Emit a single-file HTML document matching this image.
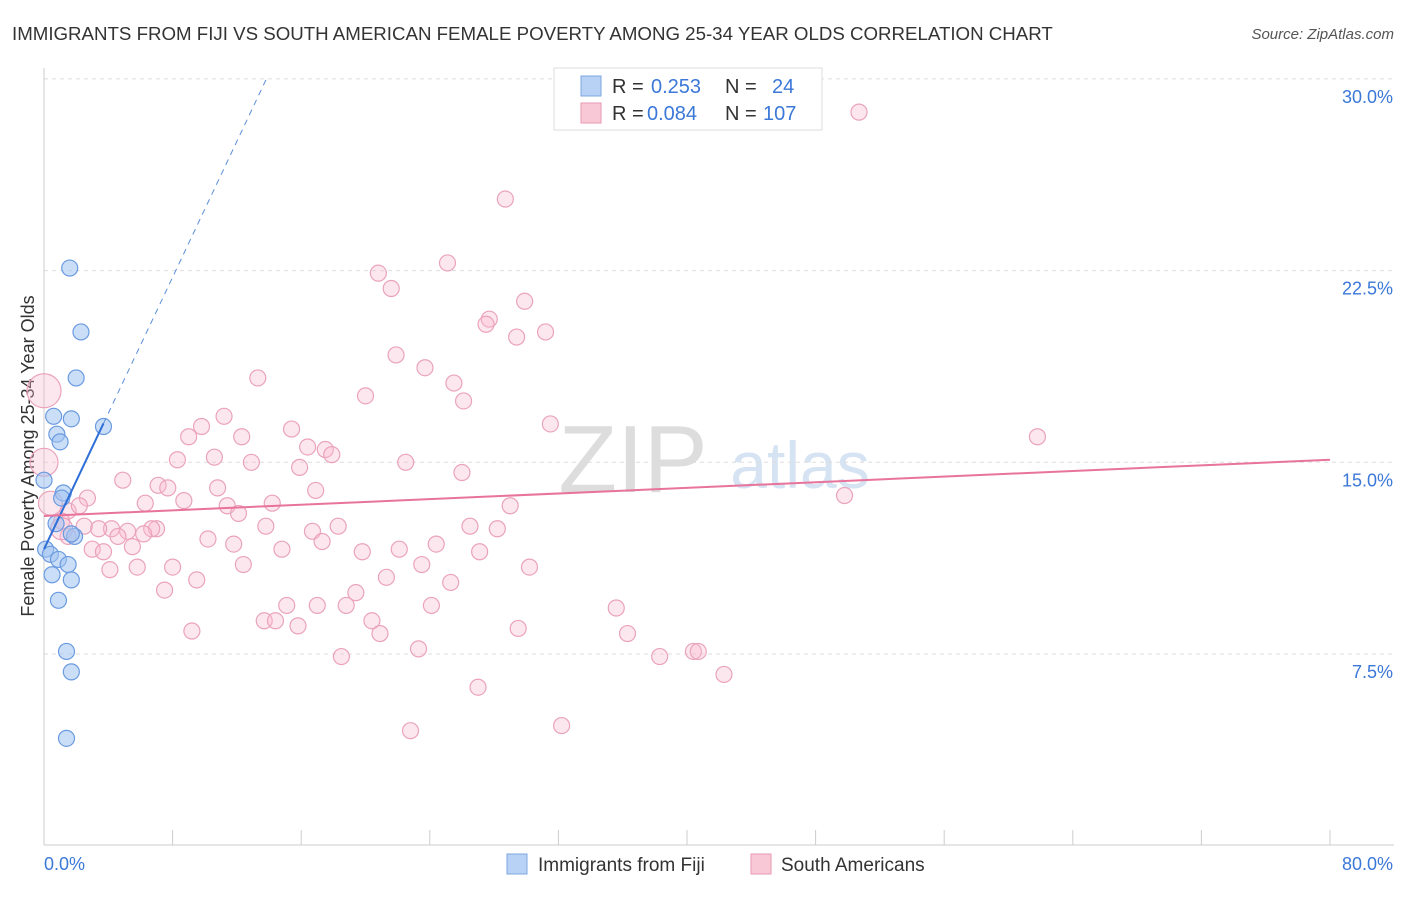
<!DOCTYPE html>
<html><head><meta charset="utf-8"><style>
body{margin:0;background:#fff;font-family:"Liberation Sans",sans-serif}
svg text{font-family:"Liberation Sans",sans-serif}
</style></head><body>
<svg id="chart" width="1406" height="892">
<text x="12" y="40" font-size="18.7" fill="#333">IMMIGRANTS FROM FIJI VS SOUTH AMERICAN FEMALE POVERTY AMONG 25-34 YEAR OLDS CORRELATION CHART</text>
<text x="1394" y="39" font-size="15" fill="#555" font-style="italic" text-anchor="end">Source: ZipAtlas.com</text>
<text x="633" y="492" font-size="96" fill="#ddd" font-family="Liberation Serif" text-anchor="middle">ZIP</text>
<text x="800" y="488" font-size="66" fill="#d6e3f3" text-anchor="middle">atlas</text>
<text transform="translate(34,456) rotate(-90)" font-size="18" fill="#333" text-anchor="middle">Female Poverty Among 25-34 Year Olds</text>
<g id="grid"></g><g id="marks"></g>
<g>
<rect x="554" y="68" width="268" height="62" fill="#fff" stroke="#ddd"/>
<rect x="581" y="76" width="20" height="20" fill="#b8d2f5" stroke="#7ba7e0"/>
<text x="612" y="93" font-size="20" fill="#333">R =</text>
<text x="651" y="93" font-size="20" fill="#3b78d8">0.253</text>
<text x="725" y="93" font-size="20" fill="#333">N =</text>
<text x="772" y="93" font-size="20" fill="#3b78d8">24</text>
<rect x="581" y="103" width="20" height="20" fill="#f9c8d6" stroke="#e89ab3"/>
<text x="612" y="120" font-size="20" fill="#333">R =</text>
<text x="647" y="120" font-size="20" fill="#3b78d8">0.084</text>
<text x="725" y="120" font-size="20" fill="#333">N =</text>
<text x="763" y="120" font-size="20" fill="#3b78d8">107</text>
</g>
<g>
<rect x="507" y="854" width="20" height="20" fill="#b8d2f5" stroke="#7ba7e0"/>
<text x="538" y="871" font-size="19" fill="#333">Immigrants from Fiji</text>
<rect x="751" y="854" width="20" height="20" fill="#f9c8d6" stroke="#e89ab3"/>
<text x="781" y="871" font-size="19" fill="#333">South Americans</text>
</g>
</svg>
<script>
const fijiX=[1.6,2.3,2.0,3.7,0.6,1.7,0.8,1.0,0,1.2,1.1,0.75,1.9,1.7,0.1,0.4,0.9,1.5,0.5,1.7,0.9,1.4,1.7,1.4];
const fijiY=[22.6,20.1,18.3,16.4,16.8,16.7,16.1,15.8,14.3,13.8,13.6,12.6,12.1,12.2,11.6,11.4,11.2,11.0,10.6,10.4,9.6,7.6,6.8,4.2];
const saX=[50.7,28.7,25.1,20.8,21.6,29.9,27.7,27.5,29.4,31.2,21.9,23.7,13.3,25.5,20.0,26.1,11.2,31.5,15.4,9.0,12.3,61.8,9.8,16.4,17.5,17.9,10.6,8.3,12.9,22.5,26.0,15.9,4.9,7.1,7.7,10.8,16.9,2.7,8.7,6.3,14.2,11.4,12.1,29.0,49.8,1.5,2.2,1.1,13.8,18.3,26.5,28.2,4.2,5.2,7.0,6.7,3.4,2.5,6.2,16.7,1.5,4.6,10.2,11.8,17.3,24.4,27.1,5.5,3.0,3.7,19.8,22.1,14.8,8.0,12.4,23.5,4.1,5.8,30.2,21.3,25.3,9.5,7.5,19.4,17.0,18.8,24.1,15.1,35.6,13.7,14.4,15.8,20.4,20.9,9.2,29.5,36.3,23.3,18.5,38.3,40.4,40.7,42.3,27.0,22.8,32.2,0,0,0.4,1.1];
const saY=[28.7,25.3,22.8,22.4,21.8,21.3,20.6,20.4,19.9,20.1,19.2,18.7,18.3,18.1,17.6,17.4,16.8,16.5,16.3,16.0,16.0,16.0,16.4,15.6,15.5,15.3,15.2,15.1,15.0,15.0,14.6,14.8,14.3,14.1,14.0,14.0,13.9,13.6,13.5,13.4,13.4,13.3,13.0,13.3,13.7,13.1,13.3,12.7,12.5,12.5,12.5,12.4,12.4,12.3,12.4,12.4,12.4,12.5,12.2,12.3,12.1,12.1,12.0,11.8,11.9,11.8,11.5,11.7,11.6,11.5,11.5,11.6,11.6,10.9,11.0,11.0,10.8,10.9,10.9,10.5,10.3,10.4,10.0,9.9,9.4,9.4,9.4,9.4,9.3,8.8,8.8,8.6,8.8,8.3,8.4,8.5,8.3,7.7,7.4,7.4,7.6,7.6,6.7,6.2,4.5,4.7,17.8,15.0,13.4,12.4];
const saR=saX.map((_,i)=>i>=saX.length-4?[17,14,12,11][i-(saX.length-4)]:8);
const yTicks=[7.5,15,22.5,30];
const yTickLabels=["7.5%","15.0%","22.5%","30.0%"];
const xTicks=[0,8,16,24,32,40,48,56,64,72,80];
const fijiTrend=[11.6,1.33];
const saTrend=[12.9,0.0275];
const X=v=>44+v*16.075, Y=v=>845.7-v*25.56;
const NS="http://www.w3.org/2000/svg";
function mk(t,a,p){const e=document.createElementNS(NS,t);for(const k in a)e.setAttribute(k,a[k]);p.appendChild(e);return e;}
const g=document.getElementById('grid'),m=document.getElementById('marks');
yTicks.forEach((t,i)=>{const l=mk('line',{x1:44,x2:1394,y1:Y(t),y2:Y(t),stroke:'#ddd','stroke-dasharray':'4,4'},g);


const tx=mk('text',{x:1393,y:Y(t)+24,'font-size':18,fill:'#3b78d8','text-anchor':'end'},g);tx.textContent=yTickLabels[i];

});
const ax=mk('line',{x1:44,x2:1394,y1:845,y2:845,stroke:'#ccc'},g);


const ay=mk('line',{x1:44,x2:44,y1:68,y2:845,stroke:'#ccc'},g);


xTicks.forEach(t=>{const l=mk('line',{x1:X(t),x2:X(t),y1:830,y2:845,stroke:'#ccc'},g);

});
const xl0=mk('text',{x:44,y:870,'font-size':18,fill:'#3b78d8'},g);xl0.textContent='0.0%';


const xl1=mk('text',{x:1393,y:870,'font-size':18,fill:'#3b78d8','text-anchor':'end'},g);xl1.textContent='80.0%';


saX.forEach((x,i)=>{const c=mk('circle',{cx:X(x),cy:Y(saY[i]),r:saR[i],fill:'rgba(248,185,205,0.35)',stroke:'#eaa3bb','stroke-width':1.2},m);

});
fijiX.forEach((x,i)=>{const c=mk('circle',{cx:X(x),cy:Y(fijiY[i]),r:8,fill:'rgba(160,195,240,0.55)',stroke:'#6a9ae0','stroke-width':1.2},m);

});
const xEnd=Math.max(...fijiX), xDash=(30-fijiTrend[0])/fijiTrend[1];
const fl=mk('line',{x1:X(0),y1:Y(fijiTrend[0]),x2:X(xEnd),y2:Y(fijiTrend[0]+fijiTrend[1]*xEnd),stroke:'#2f6fd8','stroke-width':2},m);


const fd=mk('line',{x1:X(xEnd),y1:Y(fijiTrend[0]+fijiTrend[1]*xEnd),x2:X(xDash),y2:Y(30),stroke:'#5b8fd8','stroke-width':1,'stroke-dasharray':'6,5'},m);


const sl=mk('line',{x1:X(0),y1:Y(saTrend[0]),x2:X(80),y2:Y(saTrend[0]+saTrend[1]*80),stroke:'#e8739b','stroke-width':2},m);


</script>
</body></html>
